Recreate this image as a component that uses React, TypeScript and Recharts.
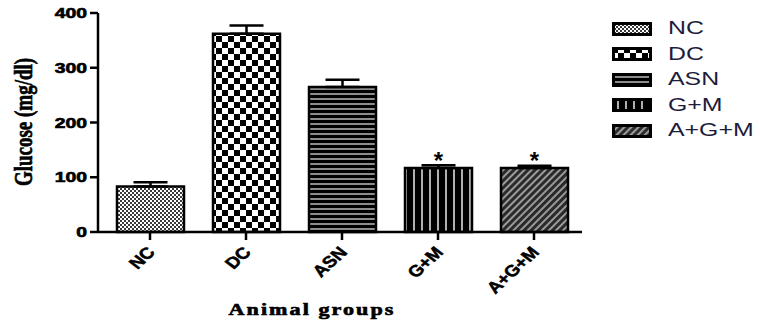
import React from "react";
import { Bar, BarChart, Cell, ErrorBar, LabelList, Legend, XAxis, YAxis } from "recharts";

const groups = ["NC", "DC", "ASN", "G+M", "A+G+M"];
const glucose = [83, 362, 265, 117, 117];
const sem = [8, 15, 13, 5, 4];
const marks = ["", "", "", "*", "*"];
const yTicks = [0, 100, 200, 300, 400];

const patternIds = ["pat-nc", "pat-dc", "pat-asn", "pat-gm", "pat-agm"];

const data = groups.map((g, i) => ({
  group: g,
  glucose: glucose[i],
  err: [0, sem[i]],
  mark: marks[i],
}));

const SANS = "'Liberation Sans', Arial, sans-serif";
const SERIF = "'Liberation Serif', 'Times New Roman', serif";
const STRETCH = 1.38;

function Patterns() {
  return (
    <defs>
      <pattern id="pat-nc" width="4" height="4" patternUnits="userSpaceOnUse">
        <rect width="4" height="4" fill="#fff" />
        <rect width="2" height="2" fill="#3a3a3a" />
        <rect x="2" y="2" width="2" height="2" fill="#3a3a3a" />
      </pattern>
      <pattern id="pat-dc" width="12" height="12" patternUnits="userSpaceOnUse">
        <rect width="12" height="12" fill="#fff" />
        <rect width="6" height="6" fill="#000" />
        <rect x="6" y="6" width="6" height="6" fill="#000" />
      </pattern>
      <pattern id="pat-asn" width="5" height="5" patternUnits="userSpaceOnUse">
        <rect width="5" height="5" fill="#000" />
        <rect y="3" width="5" height="2" fill="#8c8c8c" />
      </pattern>
      <pattern id="pat-gm" width="8" height="8" patternUnits="userSpaceOnUse">
        <rect width="8" height="8" fill="#000" />
        <rect x="5" width="2" height="8" fill="#b0b0b0" />
      </pattern>
      <pattern id="pat-agm" width="5" height="5" patternUnits="userSpaceOnUse" patternTransform="rotate(45)">
        <rect width="5" height="5" fill="#2a2a2a" />
        <rect width="2" height="5" fill="#9a9a9a" />
      </pattern>
    </defs>
  );
}

function YTick({ x, y, payload }: any) {
  return (
    <g transform={`translate(${x},${y}) scale(${STRETCH},1)`}>
      <text x={0} y={0} dy="0.36em" textAnchor="end" fontFamily={SANS} fontWeight="bold" fontSize={14} fill="#000" stroke="#000" strokeWidth={0.6}>
        {payload.value}
      </text>
    </g>
  );
}

function XTick({ x, y, payload }: any) {
  return (
    <g transform={`translate(${x + 1},${y + 7}) scale(1.2,1) rotate(-48)`}>
      <text x={0} y={0} dy="0.36em" textAnchor="end" fontFamily={SANS} fontWeight="bold" fontSize={16} fill="#000" stroke="#000" strokeWidth={0.5}>
        {payload.value}
      </text>
    </g>
  );
}

function YLabel() {
  return (
    <g transform={`translate(23,122) scale(1.3,1) rotate(-90)`}>
      <text x={0} y={0} dy="0.35em" textAnchor="middle" fontFamily={SERIF} fontWeight="bold" fontSize={19} fill="#000" stroke="#000" strokeWidth={0.5}>
        Glucose (mg/dl)
      </text>
    </g>
  );
}

function XLabel() {
  return (
    <g transform={`translate(312,315) scale(${STRETCH},1)`}>
      <text x={0} y={0} textAnchor="middle" fontFamily={SERIF} fontWeight="bold" fontSize={16} letterSpacing={1.5} fill="#000" stroke="#000" strokeWidth={0.6}>
        Animal groups
      </text>
    </g>
  );
}

function StarLabel({ x, y, width, value }: any) {
  if (!value) return null;
  return (
    <text x={x + width / 2} y={y + 1} textAnchor="middle" fontFamily={SANS} fontWeight="bold" fontSize={24} fill="#000">
      {value}
    </text>
  );
}

function GroupLegend() {
  return (
    <div>
      {groups.map((g, i) => (
        <div key={g} style={{ display: "flex", alignItems: "center", height: 25.5 }}>
          <svg width={40} height={14} style={{ display: "block" }}>
            <rect x={1.5} y={1.5} width={37} height={11} fill={`url(#${patternIds[i]})`} stroke="#000" strokeWidth={3} />
          </svg>
          <span
            style={{
              marginLeft: 16,
              fontFamily: SANS,
              fontSize: 18,
              color: "#1c1c3c",
              display: "inline-block",
              transform: `scaleX(${STRETCH})`,
              transformOrigin: "left center",
              whiteSpace: "nowrap",
            }}
          >
            {g}
          </span>
        </div>
      ))}
    </div>
  );
}

export default function App() {
  return (
    <div style={{ position: "absolute", left: 0, top: 0, width: 760, height: 324, background: "#fff" }}>
      <BarChart width={760} height={324} data={data} margin={{ top: 13, right: 178, bottom: 0, left: 0 }}>
        <Patterns />
        <XAxis
          dataKey="group"
          height={92}
          padding={{ left: 4, right: 0 }}
          axisLine={{ stroke: "#000", strokeWidth: 2.5 }}
          tickLine={{ stroke: "#000", strokeWidth: 2.5 }}
          tickSize={8}
          tick={<XTick />}
          interval={0}
          label={<XLabel />}
        />
        <YAxis
          width={98}
          domain={[0, 400]}
          ticks={yTicks}
          axisLine={{ stroke: "#000", strokeWidth: 2.5 }}
          tickLine={{ stroke: "#000", strokeWidth: 2.5 }}
          tickSize={8}
          tickMargin={3}
          tick={<YTick />}
          label={<YLabel />}
        />
        <Legend
          layout="vertical"
          align="center"
          verticalAlign="middle"
          wrapperStyle={{ left: 612, top: 16, width: 150 }}
          content={() => <GroupLegend />}
        />
        <Bar dataKey="glucose" barSize={67} stroke="#000" strokeWidth={2.5} isAnimationActive={false}>
          {data.map((d, i) => (
            <Cell key={d.group} fill={`url(#${patternIds[i]})`} />
          ))}
          <ErrorBar dataKey="err" direction="y" width={17} stroke="#000" strokeWidth={2.5} />
          <LabelList dataKey="mark" content={<StarLabel />} />
        </Bar>
      </BarChart>
    </div>
  );
}
